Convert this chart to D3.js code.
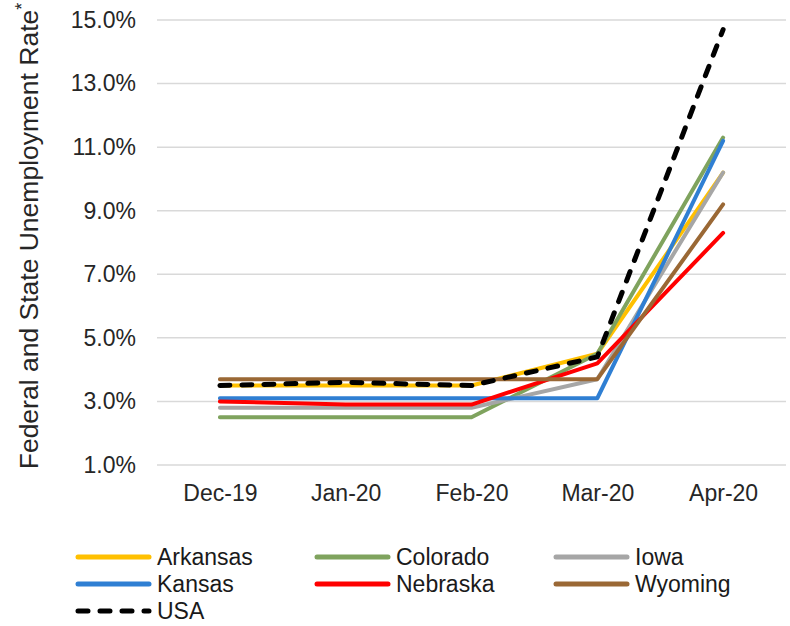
<!DOCTYPE html>
<html>
<head>
<meta charset="utf-8">
<script src="https://cdn.jsdelivr.net/npm/d3@7/dist/d3.min.js"></script>
<style>
  html, body { margin: 0; padding: 0; background: #ffffff; }
  svg { display: block; font-family: "Liberation Sans", Arial, sans-serif; }
</style>
</head>
<body>
<svg id="chart" width="790" height="626"></svg>
<script>
// Monthly unemployment rates (%), Dec 2019 – Apr 2020
const months = ["Dec-19", "Jan-20", "Feb-20", "Mar-20", "Apr-20"];
const yTicks = [1, 3, 5, 7, 9, 11, 13, 15];

const arkansas = [3.5, 3.5, 3.5, 4.5, 10.2];
const colorado = [2.5, 2.5, 2.5, 4.5, 11.3];
const iowa     = [2.8, 2.8, 2.8, 3.7, 10.2];
const kansas   = [3.1, 3.1, 3.1, 3.1, 11.2];
const nebraska = [3.0, 2.9, 2.9, 4.2, 8.3];
const wyoming  = [3.7, 3.7, 3.7, 3.7, 9.2];
const usa      = [3.5, 3.6, 3.5, 4.4, 14.7];

const seriesNames = ["Arkansas", "Colorado", "Iowa", "Kansas", "Nebraska", "Wyoming", "USA"];
const seriesValues = [arkansas, colorado, iowa, kansas, nebraska, wyoming, usa];
const seriesColors = ["#FFC000", "#7FA35E", "#A6A6A6", "#2F7FD3", "#FF0000", "#9A6835", "#000000"];

const series = seriesNames.map((name, i) => ({
  name,
  values: seriesValues[i],
  color: seriesColors[i],
  dashed: name === "USA"
}));

const svg = d3.select("#chart");
const plot = { left: 157, right: 786, top: 20, bottom: 465 };

const x = d3.scalePoint().domain(months).range([plot.left, plot.right]).padding(0.5);
const y = d3.scaleLinear().domain([1, 15]).range([plot.bottom, plot.top]);

// Horizontal gridlines
svg.append("g")
  .selectAll("line")
  .data(yTicks)
  .join("line")
  .attr("x1", plot.left).attr("x2", plot.right)
  .attr("y1", d => y(d)).attr("y2", d => y(d))
  .attr("stroke", "#d9d9d9")
  .attr("stroke-width", 1.5);

// Y axis labels
const yAxis = d3.axisLeft(y).tickValues(yTicks)
  .tickFormat(d => d3.format(".1f")(d) + "%")
  .tickSize(0).tickPadding(21);
const yg = svg.append("g").attr("transform", `translate(${plot.left},0)`).call(yAxis);
yg.select(".domain").remove();
yg.selectAll("text").attr("font-size", 23).attr("fill", "#262626")
  .attr("font-family", "Liberation Sans, Arial, sans-serif");

// X axis labels
const xAxis = d3.axisBottom(x).tickSize(0).tickPadding(20);
const xg = svg.append("g").attr("transform", `translate(0,${plot.bottom})`).call(xAxis);
xg.select(".domain").remove();
xg.selectAll("text").attr("font-size", 23).attr("fill", "#262626")
  .attr("font-family", "Liberation Sans, Arial, sans-serif");

// Y axis title
const title = svg.append("text")
  .attr("transform", "translate(38,236) rotate(-90)")
  .attr("text-anchor", "middle")
  .attr("font-size", 26.5)
  .attr("fill", "#262626");
title.append("tspan").text("Federal and State Unemployment Rate");
title.append("tspan").attr("dy", -10).attr("font-size", 18).text("*");

// Series lines
const line = d3.line()
  .x((d, i) => x(months[i]))
  .y(d => y(d));

svg.append("g")
  .selectAll("path")
  .data(series)
  .join("path")
  .attr("d", d => line(d.values))
  .attr("fill", "none")
  .attr("stroke", d => d.color)
  .attr("stroke-width", d => d.dashed ? 5 : 4)
  .attr("stroke-linejoin", "round")
  .attr("stroke-linecap", "round")
  .attr("stroke-dasharray", d => d.dashed ? "10,12" : null);

// Legend
const legendCols = [78, 317, 556];
const legendRows = [557, 584, 611];
const legend = svg.append("g")
  .selectAll("g")
  .data(series)
  .join("g")
  .attr("transform", (d, i) => `translate(${legendCols[i % 3]},${legendRows[Math.floor(i / 3)]})`);

legend.append("line")
  .attr("x1", 0).attr("x2", 71)
  .attr("y1", 0).attr("y2", 0)
  .attr("stroke", d => d.color)
  .attr("stroke-width", 5)
  .attr("stroke-linecap", "round")
  .attr("stroke-dasharray", d => d.dashed ? "10,12" : null);

legend.append("text")
  .attr("x", 79)
  .attr("y", 0)
  .attr("dy", "0.36em")
  .attr("font-size", 23)
  .attr("fill", "#1a1a1a")
  .text(d => d.name);
</script>
</body>
</html>
